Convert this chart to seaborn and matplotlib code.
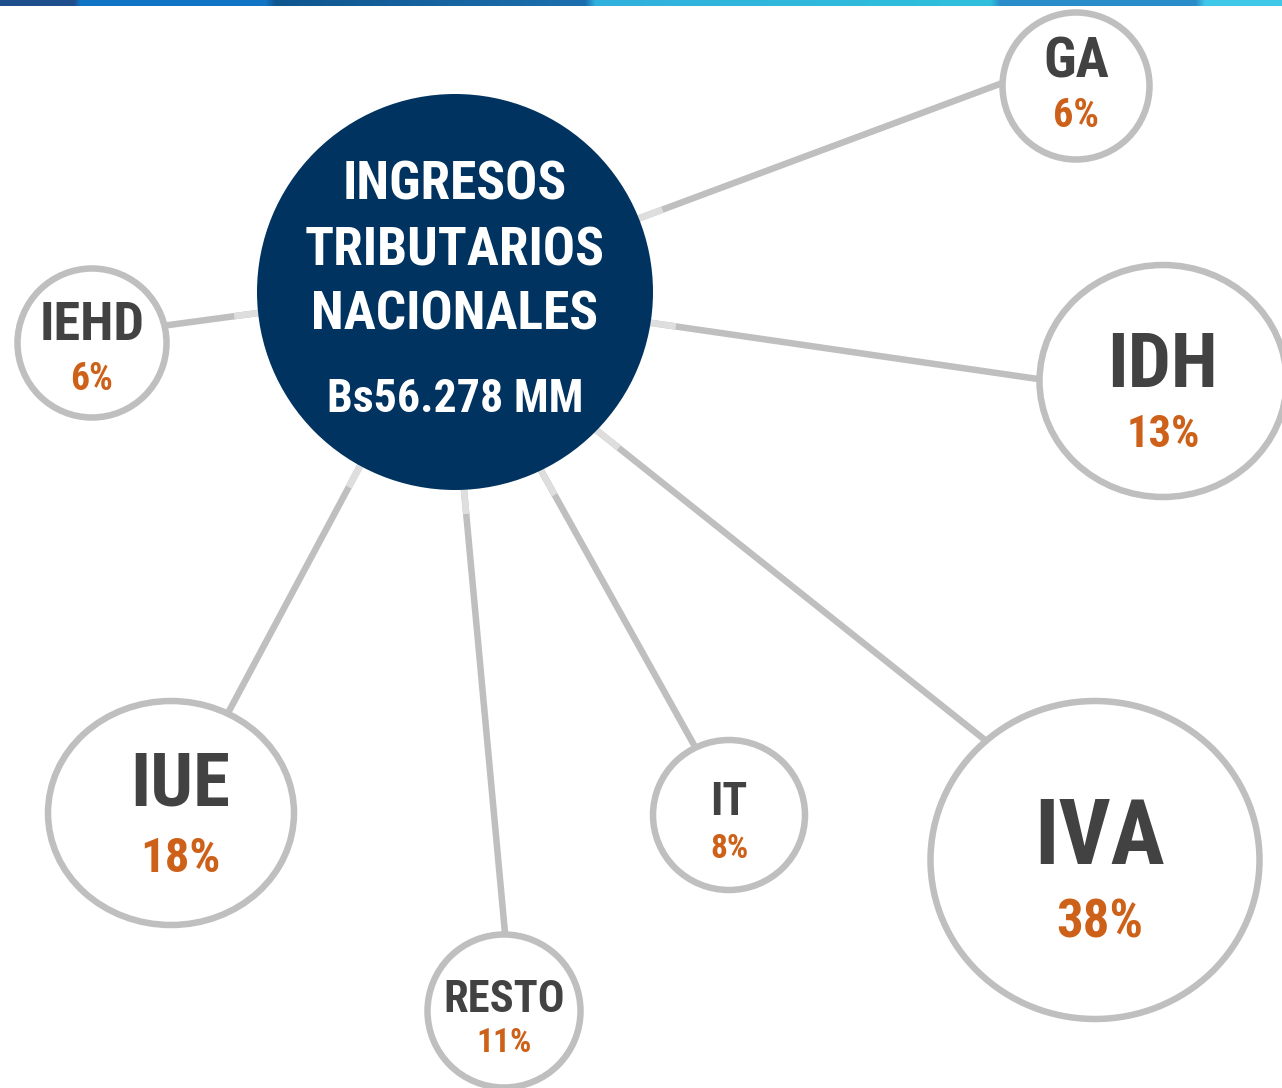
import numpy as np
import matplotlib
matplotlib.use('Agg')
import matplotlib.pyplot as plt
from matplotlib import font_manager
from matplotlib.colors import to_rgb
from matplotlib.patches import Circle, Ellipse
import seaborn as sns


# data
categories = ['IVA', 'IUE', 'IDH', 'RESTO', 'IT', 'GA', 'IEHD']
shares = [38, 18, 13, 11, 8, 6, 6]
center_title = ['INGRESOS', 'TRIBUTARIOS', 'NACIONALES']
center_total = 'Bs56.278 MM'

# layout of the bubbles (pixel space, y grows downwards)
node_x = [1095, 171, 1163, 504, 729, 1076, 92]
node_y = [860, 813, 381, 1011, 815, 86, 343]
node_w = [329, 246, 247, 153, 152, 147, 149]
node_h = [318, 224, 232, 153, 150, 147, 149]
text_dx = [5, 9, 0, 0, 0, 0, 0]
label_size = [65, 54, 55, 32, 33, 40, 39]
pct_size = [38, 35, 32, 24, 24, 29, 27]
label_base = [4, -8, 6, 1, 0, -9, -3]      # baseline offset from centre
pct_base = [78, 59, 66, 41, 43, 41, 47]
# connector start (on the big bubble) and end (on the small bubble)
link_start = [(600, 433), (360, 466), (652, 323), (464, 490), (543, 474), (640, 218), (258, 313)]
link_end = [(985, 740), (228, 713), (1038, 379), (505, 933), (694, 745), (997, 85), (169, 325)]

CENTER = (455, 292)
CENTER_R = 198
W, H = 1282, 1088

NAVY = '#00335f'
RING = '#bfbfbf'
RING_LIGHT = '#dedede'
DARK = '#424242'
ORANGE = '#cd6119'

sns.set_theme(style='white')

# pick a narrow sans if one is around
names = {f.name for f in font_manager.fontManager.ttflist}
narrow = [n for n in ['Liberation Sans Narrow', 'Arial Narrow', 'Roboto Condensed',
                      'Open Sans Condensed', 'DejaVu Sans Condensed'] if n in names]
FONT = narrow[:1] + ['Liberation Sans', 'DejaVu Sans']
STRETCH = 'condensed'
plt.rcParams['font.family'] = FONT

fig = plt.figure(figsize=(W / 100, H / 100), dpi=100)
ax = fig.add_axes([0, 0, 1, 1])
ax.set_xlim(0, W)
ax.set_ylim(H, 0)
ax.axis('off')

# top decorative band
stops = [(0, '#1e4e8c'), (74, '#1e4e8c'), (80, '#1274c4'), (265, '#1274c4'),
         (275, '#0f568f'), (585, '#1c6fae'), (595, '#31b0dc'), (990, '#2fc0dc'),
         (1000, '#2a8cc8'), (1195, '#2a8cc8'), (1205, '#40c8e8'), (1282, '#40c8e8')]
xs = np.arange(W)
band = np.zeros((1, W, 3))
for k in range(3):
    band[0, :, k] = np.interp(xs, [s[0] for s in stops], [to_rgb(s[1])[k] for s in stops])
ax.imshow(band, extent=[0, W, 6, 0], aspect='auto', zorder=1)

# connectors
lw = 6.5 * 0.72
for (x0, y0), (x1, y1) in zip(link_start, link_end):
    d = np.hypot(x1 - x0, y1 - y0)
    ux, uy = (x1 - x0) / d, (y1 - y0) / d
    ax.plot([x0 - ux * 10, x1 + ux * 10], [y0 - uy * 10, y1 + uy * 10],
            color=RING, lw=lw, solid_capstyle='butt', zorder=2)
    ax.plot([x0 - ux * 10, x0 + ux * 24], [y0 - uy * 10, y0 + uy * 24],
            color=RING_LIGHT, lw=lw, solid_capstyle='butt', zorder=3)

# centre bubble
ax.add_patch(Circle(CENTER, CENTER_R, facecolor=NAVY, edgecolor='none', zorder=4))
for line, base in zip(center_title, [200, 266, 330]):
    ax.text(CENTER[0], base, line, color='white', fontsize=38.5, fontweight='bold',
            fontstretch=STRETCH, ha='center', va='baseline', zorder=5)
ax.text(CENTER[0], 412, center_total, color='white', fontsize=33, fontweight='bold',
        fontstretch=STRETCH, ha='center', va='baseline', zorder=5)

# outer bubbles
for i, name in enumerate(categories):
    cx, cy = node_x[i], node_y[i]
    ax.add_patch(Ellipse((cx, cy), node_w[i], node_h[i], facecolor='white',
                         edgecolor=RING, lw=6.5 * 0.72, zorder=4))
    tx = cx + text_dx[i]
    ax.text(tx, cy + label_base[i], name, color=DARK, fontsize=label_size[i],
            fontweight='bold', fontstretch=STRETCH, ha='center', va='baseline', zorder=5)
    ax.text(tx, cy + pct_base[i], f'{shares[i]}%', color=ORANGE, fontsize=pct_size[i],
            fontweight='bold', fontstretch=STRETCH, ha='center', va='baseline', zorder=5)

fig.savefig('out.png', dpi=100)
